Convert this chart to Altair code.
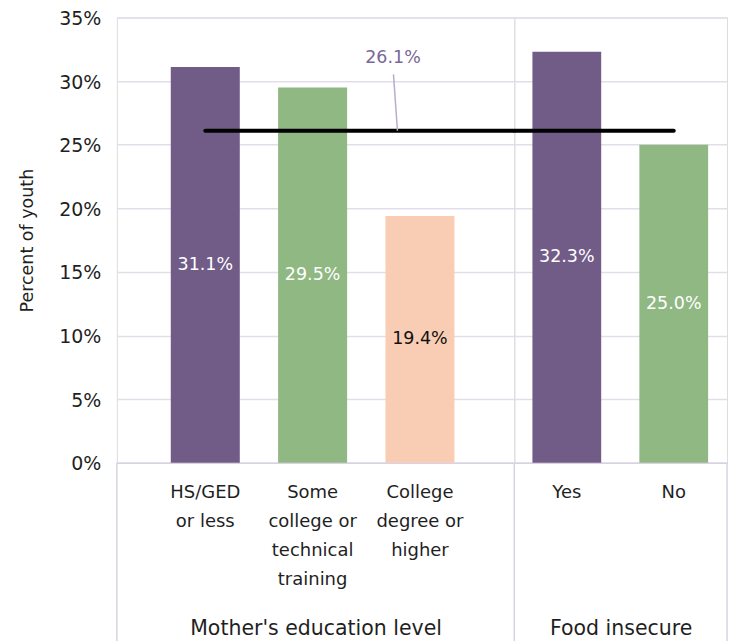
import altair as alt
import pandas as pd

# ---- data ----
edu_categories = ["HS/GED or less", "Some college or technical training", "College degree or higher"]
edu_label_lines = [["HS/GED", "or less"], ["Some", "college or", "technical", "training"], ["College", "degree or", "higher"]]
edu_values = [31.1, 29.5, 19.4]
food_categories = ["Yes", "No"]
food_label_lines = [["Yes"], ["No"]]
food_values = [32.3, 25.0]
overall_value = 26.1
group_titles = ["Mother's education level", "Food insecure"]
y_ticks = [0, 5, 10, 15, 20, 25, 30, 35]
y_title = "Percent of youth"

# ---- styles ----
FONT = "DejaVu Sans"
PURPLE = "#715C87"
GREEN = "#8FB883"
PEACH = "#F9CDB3"
GRID = "#E3DDEA"
BOX = "#D9D2E3"
TXT = "#1f1f1f"
AVG_TXT = "#7A6898"
LEADER = "#B9ADCB"
H = 446
W_LEFT = 398
W_RIGHT = 213
BOX_BOTTOM = -16  # how far (in axis units) the category boxes run below 0

y_scale = alt.Scale(domain=[0, 35], nice=False)


def label_expr(cats, lines):
    expr = "datum.label"
    for c, l in reversed(list(zip(cats, lines))):
        arr = "[" + ",".join("'" + s + "'" for s in l) + "]"
        expr = f"datum.value == '{c}' ? {arr} : ({expr})"
    return expr


def x_axis(title, cats, lines):
    return alt.Axis(
        title=title, labelExpr=label_expr(cats, lines), labelAngle=0,
        labelPadding=21, labelLineHeight=29, labelFontSize=18, labelColor=TXT,
        labelFont=FONT, ticks=False, domainColor=BOX, domainWidth=1.5,
        titleY=166, titleBaseline="middle", titleFontSize=20.5,
        titleFontWeight="normal", titleFont=FONT, titleColor=TXT, labelLimit=0,
    )


def box_line(df, xpos):
    return alt.Chart(df).mark_rect(color=BOX).encode(
        x=alt.value(xpos - 0.75), x2=alt.value(xpos + 0.75),
        y=alt.datum(0), y2=alt.datum(BOX_BOTTOM))


def panel(cats, values, colors, lines, title, width, pad_outer, align, left):
    df = pd.DataFrame({"cat": cats, "value": values})
    xs = alt.Scale(domain=cats, paddingInner=0.357, paddingOuter=pad_outer, align=align)
    x = alt.X("cat:N", sort=cats, scale=xs, axis=x_axis(title, cats, lines))
    if left:
        yax = alt.Axis(values=y_ticks, labelExpr="datum.value + '%'", labelFontSize=19,
                       labelFont=FONT, labelColor=TXT, labelPadding=16, domain=False,
                       labelBaseline="top", labelOffset=-8,
                       ticks=False, gridColor=GRID, gridWidth=1.5, title=y_title,
                       titleFontSize=17.5, titleFont=FONT, titleFontWeight="normal",
                       titleColor=TXT, titlePadding=22)
    else:
        yax = alt.Axis(values=y_ticks, labels=False, domain=False, ticks=False,
                       gridColor=GRID, gridWidth=1.5, title=None)
    base = alt.Chart(df)
    bars = base.mark_bar().encode(
        x=x,
        y=alt.Y("value:Q", scale=y_scale, axis=yax),
        color=alt.Color("cat:N", scale=alt.Scale(domain=cats, range=colors), legend=None),
    )
    texts = base.transform_calculate(
        mid="datum.value / 2", label="format(datum.value, '.1f') + '%'"
    ).mark_text(fontSize=17.5, font=FONT).encode(
        x=alt.X("cat:N", sort=cats),
        y=alt.Y("mid:Q"),
        text="label:N",
        color=alt.condition(alt.datum.cat == "College degree or higher", alt.value("#111111"), alt.value("white")),
    )
    avg_df = pd.DataFrame({"value": [overall_value], "first": [cats[0]], "last": [cats[-1]]})
    if left:
        avg = alt.Chart(avg_df).mark_rule(strokeWidth=4, strokeCap="round", color="black").encode(
            x=alt.X("first:N", sort=cats), x2=alt.value(width), y="value:Q")
    else:
        avg = alt.Chart(avg_df).mark_rule(strokeWidth=4, strokeCap="round", color="black").encode(
            x=alt.X("last:N", sort=cats), x2=alt.value(0), y="value:Q")
    layers = [bars, texts, avg]
    if left:
        lead = alt.Chart(avg_df).mark_rule(color=LEADER, strokeWidth=1.5).encode(
            x=alt.value(281), x2=alt.value(277), y="value:Q", y2=alt.value(57))
        avg_txt = alt.Chart(avg_df).transform_calculate(
            label="format(datum.value, '.1f') + '%'"
        ).mark_text(fontSize=17.5, font=FONT, color=AVG_TXT, dx=-27, dy=-73).encode(
            x=alt.X("last:N", sort=cats), y="value:Q", text="label:N")
        layers += [lead, avg_txt, box_line(avg_df, 0)]
    else:
        layers += [box_line(avg_df, 0), box_line(avg_df, width)]
    return alt.layer(*layers).properties(width=width, height=H)


left = panel(edu_categories, edu_values, [PURPLE, GREEN, PEACH], edu_label_lines,
             group_titles[0], W_LEFT, 0.53, 0.474, True)
right = panel(food_categories, food_values, [PURPLE, GREEN], food_label_lines,
              group_titles[1], W_RIGHT, 0.173, 0.49, False)

chart = alt.hconcat(left, right, spacing=0, bounds="flush").properties(
    padding={"left": 10, "top": 0, "right": 0, "bottom": 0}
).configure_view(stroke="transparent", strokeWidth=0).configure(font=FONT)

chart.save("out.html", embed_options={"renderer": "svg", "actions": False})
